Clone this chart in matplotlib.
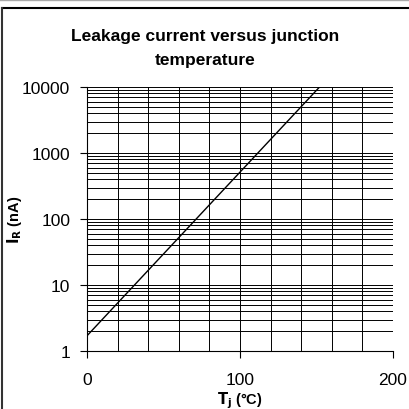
import matplotlib
matplotlib.use("Agg")
import matplotlib.pyplot as plt
from matplotlib.lines import Line2D
from matplotlib.ticker import LogLocator, FixedLocator, NullFormatter

plt.rcParams['font.family'] = ['Liberation Sans', 'DejaVu Sans']

title = "Leakage current versus junction\ntemperature"
temp_c = [0, 152]
leak_na = [1.7, 10000]
x_ticks = [0, 100, 200]
y_ticks = [1, 10, 100, 1000, 10000]
y_tick_labels = ["1", "10", "100", "1000", "10000"]

fig = plt.figure(figsize=(4.1, 4.1), dpi=100)
ax = fig.add_axes([87/410, 1-352/410, 306/410, 264/410])

ax.plot(temp_c, leak_na, color='black', lw=1.0, zorder=3)
ax.set_yscale('log')
ax.set_xlim(0, 200)
ax.set_ylim(1, 10000)

ax.set_xticks(x_ticks)
ax.set_xticklabels([str(v) for v in x_ticks], fontsize=12.5)
ax.xaxis.set_minor_locator(FixedLocator(list(range(20, 200, 20))))
ax.set_yticks(y_ticks)
ax.set_yticklabels(y_tick_labels, fontsize=12.5)
ax.yaxis.set_minor_locator(LogLocator(base=10, subs=range(2, 10)))
ax.yaxis.set_minor_formatter(NullFormatter())

ax.grid(which='both', axis='both', color='black', lw=0.7)
ax.tick_params(axis='y', which='major', direction='out', length=5, width=0.8, pad=7, colors='black')
ax.tick_params(axis='x', which='major', direction='out', length=5, width=0.8, pad=10, colors='black')
ax.tick_params(which='minor', length=0)
for s in ['top', 'right']:
    ax.spines[s].set_visible(False)
for s in ['left', 'bottom']:
    ax.spines[s].set_linewidth(0.8)

ax.set_xlabel(r"$\mathbf{T_j}$ (°C)", fontsize=10.5, fontweight='bold')
ax.set_ylabel(r"$\mathbf{I_R}$ (nA)", fontsize=10.5, fontweight='bold')
ax.xaxis.set_label_coords(0.5, -0.145)
ax.yaxis.set_label_coords(-0.205, 0.5)

fig.text(0.5, 1-48/410, title, ha='center', va='center', fontsize=12.5,
         fontweight='bold', linespacing=1.75)

# outer frame
fig.add_artist(Line2D([2/410, 1.0], [1-9/410, 1-9/410], color='black', lw=1.5,
                      transform=fig.transFigure))
fig.add_artist(Line2D([2/410, 2/410], [0, 1-9/410], color='#333333', lw=1.5,
                      transform=fig.transFigure))
fig.add_artist(Line2D([0, 1], [1-0.5/410, 1-0.5/410], color='#aaaaaa', lw=1.0,
                      transform=fig.transFigure))

fig.savefig("out.png", dpi=100)
